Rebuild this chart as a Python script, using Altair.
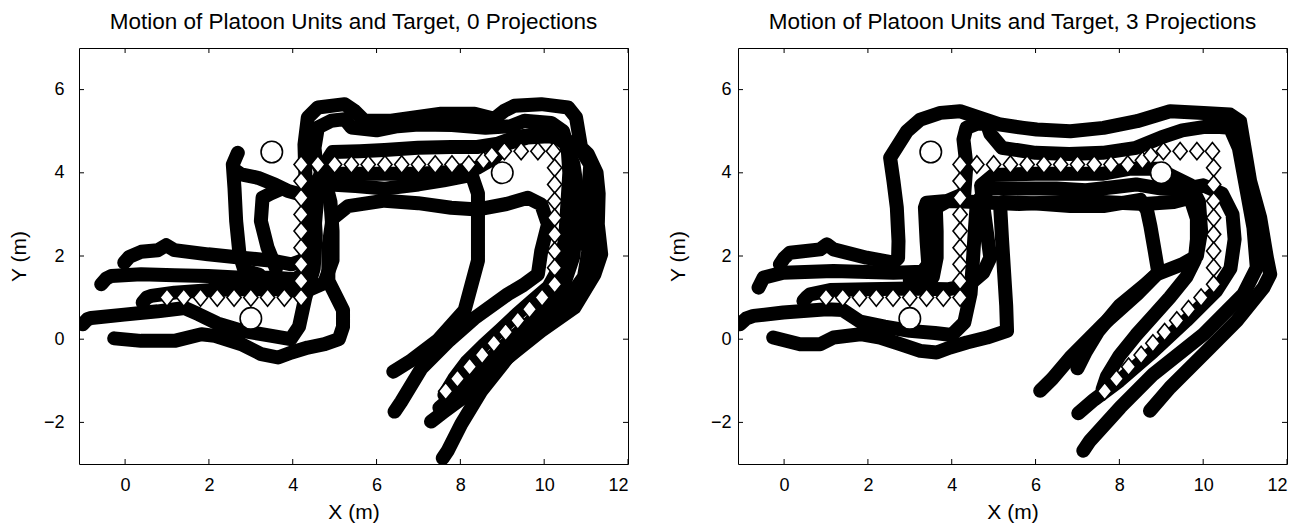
import altair as alt
import pandas as pd

# ---------------- data ----------------
TITLE_0 = "Motion of Platoon Units and Target, 0 Projections"
TITLE_3 = "Motion of Platoon Units and Target, 3 Projections"

X_TICKS = [0, 2, 4, 6, 8, 10, 12]
Y_TICKS = [-2, 0, 2, 4, 6]

# target (diamonds)
TGT_X = [1.0, 1.4, 1.8, 2.2, 2.6, 3.0, 3.4, 3.8, 4.2,
         4.2, 4.2, 4.2, 4.2, 4.2, 4.2, 4.2, 4.2,
         4.6, 5.0, 5.4, 5.8, 6.2, 6.6, 7.0, 7.4, 7.8, 8.2,
         8.55, 8.75, 9.05, 9.45, 9.85, 10.22,
         10.25, 10.25, 10.25, 10.25, 10.25, 10.25, 10.25, 10.25,
         9.95, 9.65, 9.37, 9.08, 8.8, 8.52, 8.22, 7.93, 7.65]
TGT_Y = [1.0, 1.0, 1.0, 1.0, 1.0, 1.0, 1.0, 1.0, 1.0,
         1.4, 1.8, 2.2, 2.6, 3.0, 3.4, 3.8, 4.2,
         4.2, 4.2, 4.2, 4.2, 4.2, 4.2, 4.2, 4.2, 4.2, 4.2,
         4.3, 4.42, 4.52, 4.52, 4.52, 4.52,
         4.12, 3.72, 3.32, 2.92, 2.52, 2.12, 1.72, 1.32,
         1.0, 0.72, 0.45, 0.17, -0.1, -0.38, -0.66, -0.95, -1.25]

# obstacles (circles)
OBS_X = [3.5, 9.0, 3.0]
OBS_Y = [4.5, 4.0, 0.5]

# platoon unit tracks, 0 projections
L_U1 = [(-0.02,1.84),(0.1,1.98),(0.38,2.1),(0.78,2.14),(0.98,2.26),(1.18,2.14),(1.98,2.04),(2.78,1.96),(3.57,1.88),(3.97,1.8),(4.25,1.9),(4.5,2.4),(4.55,3.0),(4.6,3.5),(4.9,3.72),(5.5,3.68),(6.2,3.62),(7.0,3.72),(7.6,3.82),(8.27,3.95),(8.42,3.5),(8.42,3.09),(8.42,1.89),(8.1,0.69),(7.46,-0.03),(6.83,-0.51),(6.4,-0.78)]
L_U2 = [(-0.57,1.32),(-0.45,1.46),(-0.33,1.52),(0.38,1.56),(1.18,1.54),(1.98,1.52),(2.78,1.48),(3.57,1.48),(4.05,1.44),(4.3,1.6),(4.4,2.3),(4.35,3.2),(4.3,4.0),(4.28,4.68),(4.36,5.33),(4.6,5.57),(5.24,5.65),(5.47,5.49),(5.71,5.25),(6.35,5.25),(7.54,5.42),(8.34,5.42),(8.81,5.3),(9.05,5.49),(9.29,5.61),(9.93,5.65),(10.57,5.57),(10.76,5.33),(10.88,4.61),(11.04,4.45),(11.25,4.0),(11.3,3.5),(11.28,2.76),(11.36,2.04),(11.2,1.56),(10.72,0.76),(9.93,0.2),(9.13,-0.44),(8.5,-1.24),(8.02,-2.04),(7.7,-2.68),(7.58,-2.86)]
L_U3 = [(0.42,0.88),(0.52,1.0),(0.62,1.04),(1.18,1.12),(2.0,1.18),(2.78,1.2),(3.6,1.2),(4.3,1.15),(4.75,1.35),(4.95,1.9),(4.95,2.6),(4.9,3.3),(4.75,3.9),(4.55,4.3),(4.52,4.6),(4.6,5.09),(4.92,5.25),(5.24,5.29),(5.4,5.09),(6.0,5.02),(6.5,5.12),(7.0,5.16),(7.8,5.15),(8.6,5.08),(9.2,5.12),(9.53,5.25),(10.17,5.2),(10.45,5.0),(10.56,4.6),(10.6,4.0),(10.55,3.2),(10.5,2.4),(10.35,1.7),(10.1,1.25),(9.75,0.95),(9.35,0.6),(8.95,0.22),(8.55,-0.15),(8.15,-0.55),(7.85,-0.95),(7.62,-1.34)]
L_U4 = [(-1.01,0.36),(-0.9,0.48),(-0.81,0.51),(-0.02,0.59),(0.78,0.67),(1.42,0.75),(1.75,0.6),(2.2,0.38),(2.8,0.2),(3.5,0.08),(3.95,0.0),(4.15,0.3),(4.3,1.0),(4.5,1.7),(4.55,2.5),(4.5,3.3),(4.45,3.75),(5.0,3.98),(6.0,3.98),(7.0,3.98),(7.8,4.02),(8.4,4.12),(8.8,4.35),(9.1,4.7),(9.6,4.85),(10.1,4.88),(10.5,4.8),(10.85,4.6),(11.1,4.2),(11.05,3.5),(11.0,2.8),(11.05,2.1),(10.95,1.5),(10.6,1.0),(10.1,0.5),(9.5,-0.1),(8.8,-0.75),(8.2,-1.3),(7.6,-1.75),(7.3,-1.98)]
L_U5 = [(-0.26,0.02),(0.38,-0.04),(1.18,-0.04),(1.82,0.12),(2.14,0.08),(2.78,-0.12),(3.25,-0.36),(3.65,-0.44),(3.97,-0.32),(4.36,-0.2),(4.76,-0.12),(5.1,0.0),(5.2,0.3),(5.2,0.7),(5.0,1.1),(4.85,1.4),(4.85,2.2),(4.95,2.9),(5.32,3.2),(6.19,3.33),(6.99,3.27),(7.78,3.16),(8.42,3.12),(9.1,3.25),(9.61,3.4),(9.93,3.24),(10.09,2.76),(9.93,2.12),(9.85,1.56),(9.5,1.3),(9.13,1.08),(8.33,0.5),(7.7,-0.06),(7.07,-0.7),(6.59,-1.5),(6.43,-1.74)]
L_U6 = [(3.2,1.55),(2.85,1.65),(2.73,2.04),(2.65,2.84),(2.61,3.64),(2.57,4.2),(2.69,4.48)]
L_U7 = [(2.6,4.08),(2.77,3.96),(3.17,3.88),(3.57,3.72),(3.89,3.56),(4.3,3.45),(4.55,3.6),(4.7,4.1),(4.95,4.5),(5.6,4.52),(6.19,4.55),(6.99,4.6),(7.78,4.62),(8.4,4.62),(8.9,4.7),(9.3,4.85),(9.7,4.92),(10.2,4.95),(10.5,4.7),(10.7,4.2),(10.8,3.5),(10.75,2.7),(10.7,2.0),(10.5,1.4),(10.15,0.9),(9.6,0.35),(9.0,-0.2),(8.4,-0.75),(7.9,-1.3),(7.5,-1.65)]
L_U8 = [(3.6,1.7),(3.4,2.2),(3.24,2.84),(3.28,3.4),(3.47,3.5),(3.7,3.6)]

# platoon unit tracks, 3 projections
R_U1 = [(-0.1,1.8),(0.0,1.95),(0.14,2.08),(0.86,2.16),(1.02,2.28),(1.18,2.16),(1.97,1.96),(2.61,1.84),(2.72,1.95),(2.73,2.36),(2.69,3.16),(2.61,3.8),(2.53,4.36),(2.93,5.0),(3.25,5.28),(3.73,5.44),(4.2,5.48),(4.68,5.32),(5.16,5.16),(5.71,5.08),(6.03,5.04),(6.83,5.0),(7.62,5.08),(8.42,5.24),(9.21,5.48),(10.01,5.44),(10.64,5.4),(10.88,5.24),(10.96,4.76),(11.12,3.8),(11.36,2.92),(11.52,1.96),(11.6,1.56),(11.44,1.24),(10.8,0.44),(10.01,-0.36),(9.21,-1.16),(8.73,-1.72)]
R_U2 = [(-0.61,1.24),(-0.49,1.48),(-0.02,1.6),(1.18,1.64),(2.61,1.6),(3.3,1.62),(3.44,1.8),(3.4,2.36),(3.36,3.16),(3.4,3.28),(3.88,3.32),(4.3,3.5),(4.35,4.2),(4.28,4.8),(4.35,5.08),(4.6,5.18),(4.84,5.18),(4.92,4.94),(5.2,4.6),(6.0,4.48),(6.8,4.45),(7.6,4.48),(8.4,4.6),(9.0,4.85),(9.5,5.02),(10.0,5.1),(10.4,5.1),(10.64,5.08),(10.85,4.6),(11.04,3.56),(11.2,2.68),(11.28,1.72),(10.96,1.08),(10.01,0.12),(8.81,-0.84),(8.02,-1.64),(7.3,-2.44),(7.14,-2.68)]
R_U3 = [(0.46,0.92),(0.55,1.02),(0.62,1.08),(1.1,1.18),(2.0,1.2),(3.0,1.22),(3.9,1.2),(4.4,1.3),(4.75,1.6),(4.92,1.96),(4.76,3.16),(4.7,3.7),(5.0,3.95),(6.0,3.98),(7.0,3.98),(7.62,3.98),(8.26,4.1),(8.9,4.1),(9.3,3.9),(9.7,3.7),(9.9,3.3),(9.95,2.6),(9.85,2.0),(9.5,1.8),(8.89,1.56),(8.42,1.08),(7.62,0.36),(6.83,-0.44),(6.4,-0.95),(6.11,-1.24)]
R_U4 = [(-1.05,0.36),(-0.9,0.5),(-0.73,0.56),(-0.02,0.64),(1.02,0.72),(1.4,0.7),(1.82,0.42),(2.4,0.3),(3.0,0.2),(3.6,0.15),(4.0,0.1),(4.3,0.4),(4.45,1.1),(4.5,1.8),(4.55,2.6),(4.6,3.3),(4.9,3.62),(5.6,3.62),(6.5,3.62),(7.2,3.58),(7.9,3.66),(8.4,3.72),(9.0,3.62),(9.5,3.6),(10.0,3.7),(10.45,3.5),(10.7,3.0),(10.75,2.4),(10.65,1.7),(10.3,1.15),(9.6,0.45),(8.8,-0.3),(8.0,-1.0),(7.4,-1.45),(7.02,-1.78)]
R_U5 = [(-0.26,0.04),(0.38,-0.12),(0.86,-0.12),(1.18,0.04),(1.82,0.12),(2.29,0.04),(2.77,-0.12),(3.25,-0.28),(3.64,-0.32),(3.96,-0.2),(4.36,-0.08),(4.84,0.04),(5.32,0.2),(5.3,0.8),(5.25,1.6),(5.2,2.4),(5.16,3.12),(5.23,3.3),(6.03,3.26),(6.83,3.2),(7.62,3.2),(8.5,3.35),(8.66,3.1),(8.74,2.72),(8.85,2.08),(8.93,1.6),(8.6,1.3),(8.0,0.8),(7.5,0.2),(7.2,-0.3),(7.0,-0.7)]
R_U6 = [(3.0,1.42),(3.55,1.5),(3.64,1.96),(3.64,2.6),(3.62,3.16),(3.9,3.32),(4.6,3.3),(5.6,3.25),(6.6,3.3),(7.6,3.3),(8.6,3.25),(9.3,3.3),(9.69,3.4),(9.85,2.9),(9.85,2.4),(9.8,1.9),(9.6,1.5),(9.2,1.0),(8.8,0.55),(8.4,0.1),(8.0,-0.4),(7.7,-0.9),(7.6,-1.2)]

LEFT_UNITS = [L_U1, L_U2, L_U3, L_U4, L_U5, L_U6, L_U7, L_U8]
RIGHT_UNITS = [R_U1, R_U2, R_U3, R_U4, R_U5, R_U6]

# ---------------- build tables ----------------
def tracks(units):
    rows = []
    for u, pts in enumerate(units):
        for i, (x, y) in enumerate(pts):
            rows.append({"unit": u, "i": i, "x": x, "y": y})
    return pd.DataFrame(rows)

target_df = pd.DataFrame({"x": TGT_X, "y": TGT_Y})
obs_df = pd.DataFrame({"x": OBS_X, "y": OBS_Y})
xt_df = pd.DataFrame({"t": X_TICKS})
yt_df = pd.DataFrame({"t": Y_TICKS})

FONT = "Liberation Sans"
W, H = 549, 416
XS = alt.Scale(domain=[-1.1, 12], nice=False, zero=False)
YS = alt.Scale(domain=[-3, 7], nice=False, zero=False)
TALL_DIAMOND = "M-0.82,0L0,-1L0.82,0L0,1Z"


def panel(units, title, lab_pad, title_pad):
    xaxis = alt.Axis(values=X_TICKS, ticks=False, domain=False, grid=False,
                     labelFont=FONT, labelFontSize=18, labelColor="black",
                     labelPadding=12, title="X (m)", titleFont=FONT,
                     titleFontSize=21, titleFontWeight="normal",
                     titleColor="black", titlePadding=7)
    yaxis = alt.Axis(values=Y_TICKS, ticks=False, domain=False, grid=False,
                     labelFont=FONT, labelFontSize=18, labelColor="black",
                     labelPadding=lab_pad, title="Y (m)", titleFont=FONT,
                     titleFontSize=21, titleFontWeight="normal",
                     titleColor="black", titlePadding=title_pad)

    def X(f):
        return alt.X(f, type="quantitative", scale=XS, axis=xaxis)

    def Y(f):
        return alt.Y(f, type="quantitative", scale=YS, axis=yaxis)

    lines = alt.Chart(tracks(units)).mark_line(
        color="black", strokeWidth=14, strokeCap="round", strokeJoin="round",
        clip=True
    ).encode(x=X("x"), y=Y("y"), detail="unit:N", order="i:Q")

    diamonds = alt.Chart(target_df).mark_point(
        shape=TALL_DIAMOND, filled=True, fill="white", stroke="black",
        strokeWidth=1.6, size=300, opacity=1
    ).encode(x=X("x"), y=Y("y"))

    circles = alt.Chart(obs_df).mark_point(
        shape="circle", filled=True, fill="white", stroke="black",
        strokeWidth=1.6, size=460, opacity=1
    ).encode(x=X("x"), y=Y("y"))

    tb = alt.Chart(xt_df).mark_rule(color="black", strokeWidth=1).encode(
        x=X("t"), y=alt.value(H), y2=alt.value(H - 5))
    tt = alt.Chart(xt_df).mark_rule(color="black", strokeWidth=1).encode(
        x=X("t"), y=alt.value(0), y2=alt.value(5))
    tl = alt.Chart(yt_df).mark_rule(color="black", strokeWidth=1).encode(
        y=Y("t"), x=alt.value(0), x2=alt.value(5))
    tr = alt.Chart(yt_df).mark_rule(color="black", strokeWidth=1).encode(
        y=Y("t"), x=alt.value(W), x2=alt.value(W - 5))

    return alt.layer(lines, diamonds, circles, tb, tt, tl, tr).properties(
        width=W, height=H,
        title=alt.Title(title, font=FONT, fontSize=22.5, fontWeight="normal",
                        color="black", anchor="middle", offset=14)
    )


left = panel(LEFT_UNITS, TITLE_0, 15, 14)
right = panel(RIGHT_UNITS, TITLE_3, 7, 22)

chart = alt.hconcat(left, right, spacing=37).properties(
    padding={"left": 7, "top": 10, "right": 5, "bottom": 3},
    background="white"
).configure_view(stroke="black", strokeWidth=1)

chart.save("out.html", embed_options={"renderer": "svg", "actions": False})
